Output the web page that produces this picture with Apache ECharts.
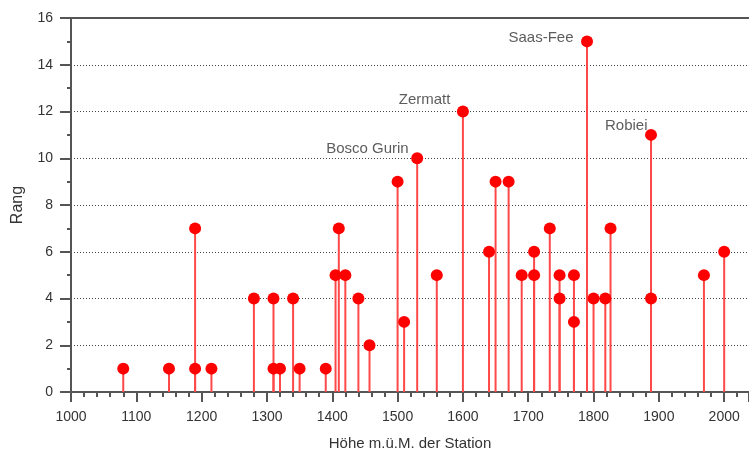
<!DOCTYPE html>
<html>
<head>
<meta charset="utf-8">
<script src="https://cdn.jsdelivr.net/npm/echarts@6/dist/echarts.min.js"></script>
<style>
html,body{margin:0;padding:0;background:#fff;}
#chart{width:749px;height:453px;}
</style>
</head>
<body>
<div id="chart"></div>
<script>
// Station elevation (m ü.M.) and rank
const stationElev = [1080, 1150, 1190, 1190, 1215, 1280, 1310, 1310, 1320, 1340, 1350, 1390, 1405, 1410, 1420, 1440, 1457, 1500, 1510, 1530, 1560, 1600, 1640, 1650, 1670, 1690, 1709, 1709, 1733, 1748, 1748, 1770, 1770, 1790, 1800, 1818, 1826, 1888, 1888, 1969, 2000];
const stationRank = [1, 1, 7, 1, 1, 4, 4, 1, 1, 4, 1, 1, 5, 7, 5, 4, 2, 9, 3, 10, 5, 12, 6, 9, 9, 5, 6, 5, 7, 5, 4, 5, 3, 15, 4, 4, 7, 11, 4, 5, 6];

// Labelled stations
const labelElev = [1530, 1600, 1790, 1888];
const labelRank = [10, 12, 15, 11];
const labelName = ['Bosco Gurin', 'Zermatt', 'Saas-Fee', 'Robiei'];

// Axis settings
const xMin = 1000, xMax = 2038, xInterval = 100;
const yMin = 0, yMax = 16, yInterval = 2;

const labelOffsets = [[-8, -9], [-12, -11], [-13, -3], [-3, -9]];

const points = stationElev.map((e, i) => [e, stationRank[i]]);
const labelData = labelElev.map((e, i) => ({
  value: [e, labelRank[i]],
  label: { position: labelOffsets[i] }
}));

const FONT = 'Liberation Sans';
const axisColor = '#555';
const textColor = '#333';

const chart = echarts.init(document.getElementById('chart'), null, { renderer: 'canvas' });
chart.setOption({
  animation: false,
  backgroundColor: '#fff',
  textStyle: { fontFamily: FONT },
  grid: { left: 71, right: 0, top: 18, bottom: 61, containLabel: false, outerBoundsMode: 'none' },
  xAxis: [{
    type: 'value',
    min: xMin, max: xMax, interval: xInterval,
    name: 'Höhe m.ü.M. der Station',
    nameLocation: 'middle',
    nameGap: 44,
    nameTextStyle: { color: textColor, fontSize: 15, fontFamily: FONT },
    axisLine: { show: true, onZero: false, lineStyle: { color: axisColor, width: 2 } },
    axisTick: { show: true, length: 10, lineStyle: { color: axisColor, width: 2 } },
    minorTick: { show: true, splitNumber: 5, length: 5, lineStyle: { color: axisColor, width: 2 } },
    axisLabel: {
      color: textColor, fontSize: 14, fontFamily: FONT, margin: 18,
      formatter: v => (v % 100 === 0 ? String(v) : '')
    },
    splitLine: { show: false }
  }, {
    type: 'value', position: 'top',
    min: xMin, max: xMax, interval: xInterval,
    axisLine: { show: true, onZero: false, lineStyle: { color: axisColor, width: 2 } },
    axisTick: { show: false }, axisLabel: { show: false }, splitLine: { show: false }
  }],
  yAxis: {
    type: 'value',
    min: yMin, max: yMax, interval: yInterval,
    name: 'Rang',
    nameLocation: 'middle',
    nameGap: 45,
    nameTextStyle: { color: textColor, fontSize: 16, fontFamily: FONT },
    axisLine: { show: true, lineStyle: { color: axisColor, width: 2 } },
    axisTick: { show: true, length: 11, lineStyle: { color: axisColor, width: 2 } },
    minorTick: { show: true, splitNumber: 2, length: 4, lineStyle: { color: axisColor, width: 2 } },
    axisLabel: { color: textColor, fontSize: 14, fontFamily: FONT, margin: 18 },
    splitLine: {
      show: true,
      lineStyle: { color: '#444', width: 1, type: [1, 2] }
    }
  },
  series: [{
    type: 'custom',
    z: 2,
    data: points,
    renderItem: (params, api) => {
      const x = api.value(0), y = api.value(1);
      const p0 = api.coord([x, 0]);
      const p1 = api.coord([x, y]);
      return {
        type: 'line',
        shape: { x1: p0[0], y1: p0[1], x2: p1[0], y2: p1[1] },
        style: { stroke: '#ff4848', lineWidth: 2 }
      };
    }
  }, {
    type: 'scatter',
    z: 3,
    data: points,
    symbol: 'circle',
    symbolSize: 12,
    itemStyle: { color: '#ff0000', opacity: 1 }
  }, {
    type: 'scatter',
    z: 4,
    data: labelData,
    symbolSize: 1,
    itemStyle: { color: 'rgba(0,0,0,0)' },
    silent: true,
    label: {
      show: true,
      formatter: p => labelName[p.dataIndex],
      align: 'right',
      verticalAlign: 'middle',
      color: textColor,
      fontSize: 15,
      fontFamily: FONT
    }
  }]
});
</script>
</body>
</html>
